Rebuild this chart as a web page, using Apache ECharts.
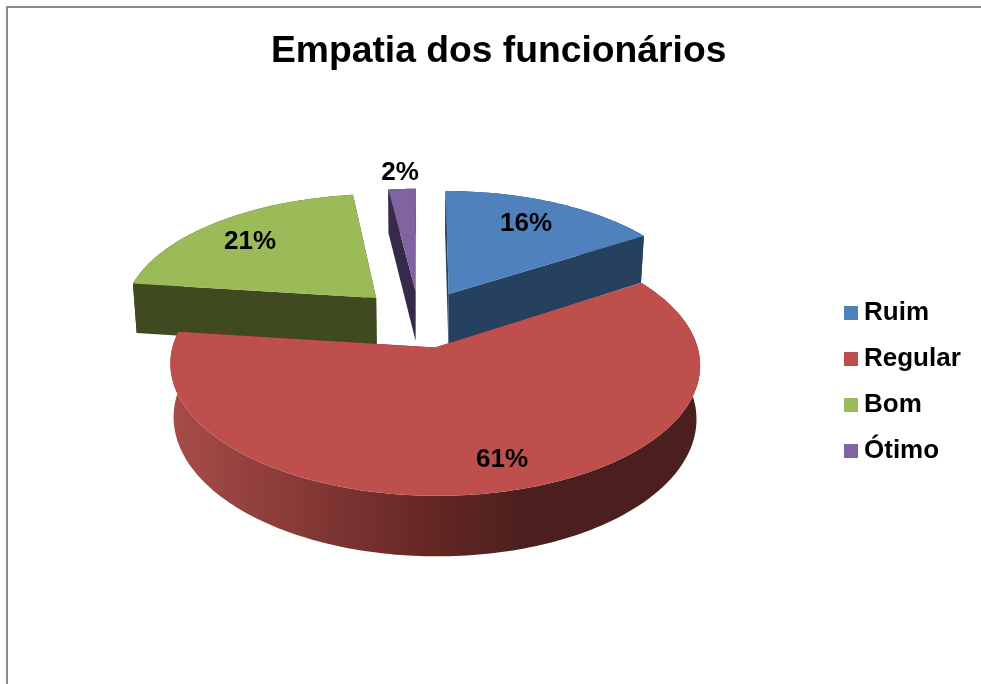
<!DOCTYPE html>
<html>
<head>
<meta charset="utf-8">
<title>Empatia dos funcionários</title>
<script src="https://cdn.jsdelivr.net/npm/echarts@6/dist/echarts.min.js"></script>
<style>
html, body { margin: 0; padding: 0; background: #fff; }
#chart-container { width: 981px; height: 684px; }
</style>
</head>
<body>
<div id="chart-container"></div>
<script>
// dados
var categories = ['Ruim', 'Regular', 'Bom', 'Ótimo'];
var percentages = [16, 61, 21, 2];

// cores
var topColors = ['#4F81BD', '#BE4F4C', '#9BBB59', '#8064A2'];
var wallColors = ['#264060', null, '#3F4A20', '#362A4A'];
var redWallStops = [
    { offset: 0, color: '#A84C48' },
    { offset: 0.51, color: '#622623' },
    { offset: 0.68, color: '#4A1F1E' },
    { offset: 1, color: '#4A1F1E' }
];

// layout da pizza "3D"
var CX = 419.4, CY = 314.7, RX = 254, RY = 120.7;
var PERSP = 0.125, DEPTH = 51, TAPER = 0.013;
var explodeX = [0.245, 0.272, 0.245, 0.245];
var explodeY = [0.2, 0.27, 0.2, 0.2];
var labelPos = [[526, 224], [502, 460], [250, 242], [400, 173]];

var FONT = '"Liberation Sans", Arial, sans-serif';
var total = percentages.reduce(function (a, b) { return a + b; }, 0);

var project = function (wx, wy, depth) {
    var s = 1 / (1 - PERSP * wy);
    var shrink = 1 - depth * TAPER;
    return [CX + RX * wx * s * shrink, CY + RY * wy * s + DEPTH * depth * s];
};

var renderSlice = function (index, value) {
    var before = percentages.slice(0, index).reduce(function (a, b) { return a + b; }, 0);
    var a0 = before / total * Math.PI * 2;
    var a1 = (before + value) / total * Math.PI * 2;
    var mid = (a0 + a1) / 2;
    var ox = Math.sin(mid) * explodeX[index];
    var oy = -Math.cos(mid) * explodeY[index];

    var arc = [];
    var steps = Math.max(2, Math.ceil((a1 - a0) / 0.02));
    for (var i = 0; i <= steps; i++) {
        var a = a0 + (a1 - a0) * i / steps;
        arc.push([ox + Math.sin(a), oy - Math.cos(a)]);
    }
    var at = function (depth) {
        return function (p) { return project(p[0], p[1], depth); };
    };
    var apex = [ox, oy];
    var radial = function (p) {
        return [at(0)(apex), at(0)(p), at(1)(p), at(1)(apex)];
    };

    // ordem de pintura: de tras para frente
    var base = Math.round(-Math.cos(mid) * 10) * 10 + 200;
    var wallFill = wallColors[index] || {
        type: 'linear', x: 0, y: 0, x2: 1, y2: 0, colorStops: redWallStops
    };
    var flat = wallColors[index] || '#6A2825';
    var pos = labelPos[index];

    return {
        type: 'group',
        children: [
            { type: 'polygon', z2: base, shape: { points: radial(arc[0]) }, style: { fill: flat } },
            { type: 'polygon', z2: base, shape: { points: radial(arc[arc.length - 1]) }, style: { fill: flat } },
            {
                type: 'polygon', z2: base + 1,
                shape: { points: arc.map(at(0)).concat(arc.slice().reverse().map(at(1))) },
                style: { fill: wallFill }
            },
            {
                type: 'polygon', z2: base + 2,
                shape: { points: [at(0)(apex)].concat(arc.map(at(0))) },
                style: { fill: topColors[index] }
            },
            {
                type: 'text', z2: 1000, x: pos[0], y: pos[1],
                style: {
                    text: value + '%', fill: '#000', align: 'center', verticalAlign: 'middle',
                    font: 'bold 26px ' + FONT
                }
            }
        ]
    };
};

var seriesList = categories.map(function (name, index) {
    return {
        type: 'custom',
        name: name,
        coordinateSystem: 'none',
        silent: true,
        itemStyle: { color: topColors[index] },
        data: [[percentages[index]]],
        renderItem: function (params, api) {
            return renderSlice(index, api.value(0));
        }
    };
});

var myChart = echarts.init(document.getElementById('chart-container'));
myChart.setOption({
    animation: false,
    backgroundColor: '#fff',
    title: {
        text: 'Empatia dos funcionários',
        left: 271,
        top: 33,
        textStyle: { fontFamily: FONT, fontSize: 37.25, fontWeight: 'bold', color: '#000' },
        padding: 0
    },
    legend: {
        orient: 'vertical',
        left: 844,
        top: 300,
        padding: 0,
        icon: 'rect',
        itemWidth: 14,
        itemHeight: 14,
        itemGap: 20,
        data: categories,
        textStyle: { fontFamily: FONT, fontSize: 26, fontWeight: 'bold', color: '#000', lineHeight: 26, padding: [0, 0, 0, 1] }
    },
    graphic: [
        { type: 'line', shape: { x1: 7, y1: 7, x2: 981, y2: 7 }, style: { stroke: '#8C8C8C', lineWidth: 2 } },
        { type: 'line', shape: { x1: 7, y1: 6, x2: 7, y2: 684 }, style: { stroke: '#8C8C8C', lineWidth: 2 } }
    ],
    series: seriesList
});
</script>
</body>
</html>
